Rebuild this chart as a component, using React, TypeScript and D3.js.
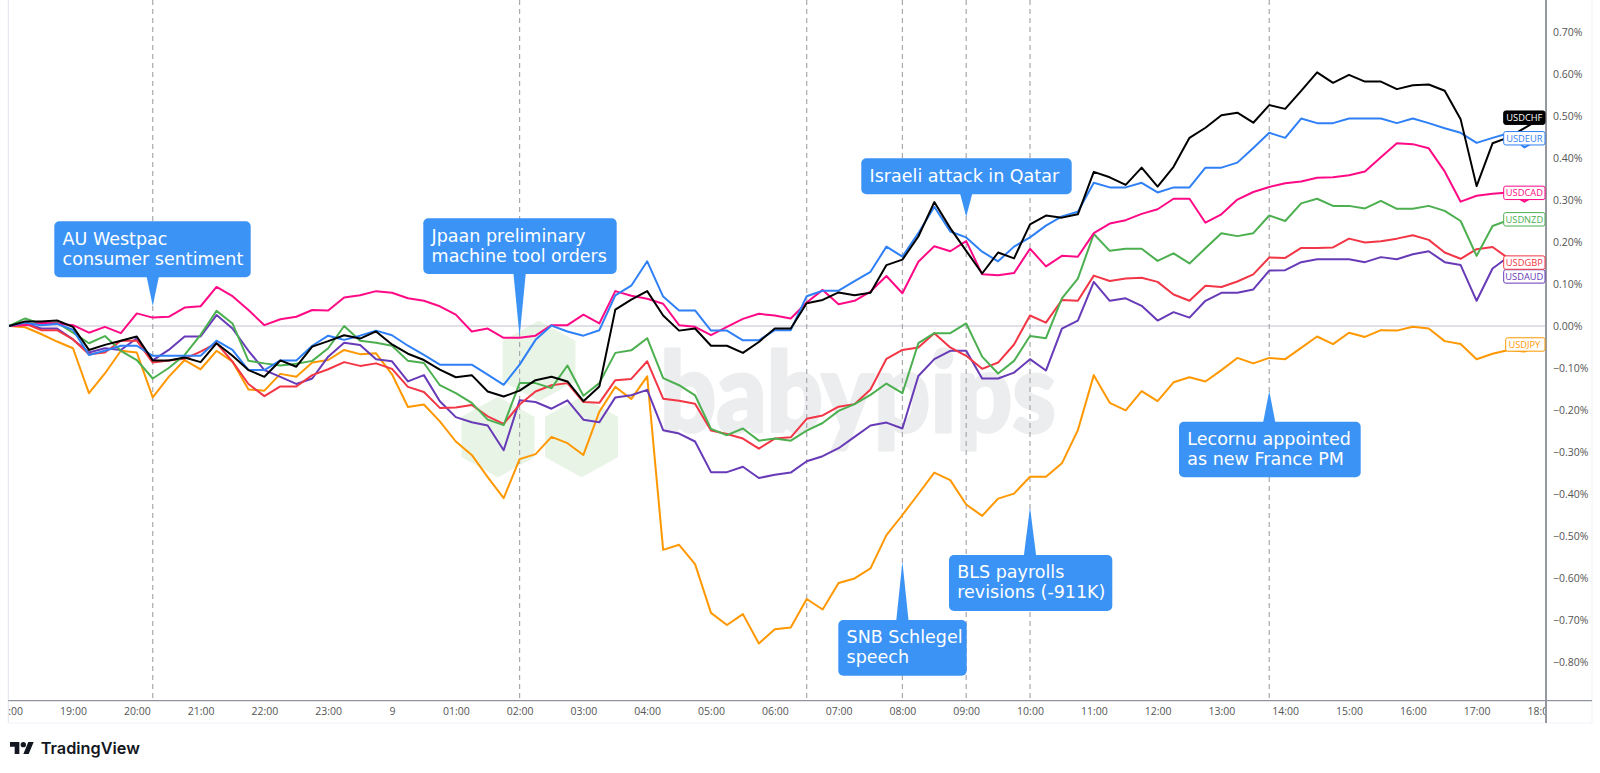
import * as React from "react";
import * as d3 from "d3";

const timeLabels = [
  "18:00", "19:00", "20:00", "21:00", "22:00", "23:00", "9", "01:00", "02:00", "03:00", "04:00", "05:00",
  "06:00", "07:00", "08:00", "09:00", "10:00", "11:00", "12:00", "13:00", "14:00", "15:00", "16:00", "17:00", "18:00",
];
const percentTicks = [0.7, 0.6, 0.5, 0.4, 0.3, 0.2, 0.1, 0, -0.1, -0.2, -0.3, -0.4, -0.5, -0.6, -0.7, -0.8];

// 15 minute closes, % change since the 18:00 open
const usdchf = [
  0, 0.011, 0.011, 0.013, -0.002, -0.057, -0.045, -0.035, -0.025, -0.082, -0.082, -0.075, -0.086, -0.041, -0.071, -0.105, -0.121, -0.082, -0.097, -0.049, -0.036, -0.022, -0.03, -0.013,
  -0.044, -0.066, -0.081, -0.104, -0.122, -0.117, -0.156, -0.168, -0.154, -0.129, -0.121, -0.132, -0.179, -0.144, 0.039, 0.063, 0.083, 0.025, -0.011, -0.006, -0.047, -0.047, -0.064, -0.038,
  -0.006, -0.006, 0.054, 0.062, 0.08, 0.073, 0.079, 0.145, 0.158, 0.213, 0.295, 0.233, 0.179, 0.125, 0.175, 0.161, 0.242, 0.263, 0.258, 0.266, 0.367, 0.354, 0.336, 0.377,
  0.332, 0.379, 0.448, 0.472, 0.502, 0.508, 0.484, 0.526, 0.517, 0.56, 0.604, 0.579, 0.598, 0.582, 0.582, 0.564, 0.573, 0.575, 0.56, 0.492, 0.333, 0.435, 0.449, 0.471, 0.494,
];
const usdeur = [
  0, 0.008, 0.002, 0.005, -0.009, -0.069, -0.059, -0.047, -0.047, -0.071, -0.071, -0.071, -0.071, -0.035, -0.057, -0.105, -0.105, -0.082, -0.082, -0.047, -0.023, -0.033, -0.023, -0.011,
  -0.022, -0.047, -0.069, -0.092, -0.092, -0.092, -0.116, -0.14, -0.092, -0.033, 0.001, -0.013, -0.023, -0.01, 0.073, 0.096, 0.154, 0.07, 0.037, 0.037, -0.011, -0.011, -0.034, -0.034,
  -0.01, -0.01, 0.071, 0.084, 0.084, 0.107, 0.129, 0.189, 0.165, 0.221, 0.284, 0.225, 0.211, 0.177, 0.154, 0.189, 0.211, 0.239, 0.261, 0.272, 0.341, 0.33, 0.33, 0.341,
  0.318, 0.33, 0.33, 0.377, 0.377, 0.389, 0.424, 0.46, 0.448, 0.494, 0.483, 0.483, 0.494, 0.494, 0.494, 0.483, 0.494, 0.483, 0.471, 0.46, 0.436, 0.448, 0.459, 0.425, 0.447,
];
const usdcad = [
  0, 0.002, 0.008, 0.006, 0.002, -0.016, -0.002, -0.017, 0.03, 0.02, 0.022, 0.044, 0.047, 0.093, 0.071, 0.038, 0.002, 0.016, 0.022, 0.038, 0.037, 0.068, 0.073, 0.083,
  0.079, 0.066, 0.06, 0.047, 0.027, -0.013, -0.006, -0.028, -0.028, -0.023, 0.002, 0.002, 0.027, 0.006, 0.083, 0.072, 0.065, 0.053, 0.002, -0.002, -0.022, -0.002, 0.017, 0.029,
  0.025, 0.018, 0.056, 0.086, 0.052, 0.06, 0.082, 0.119, 0.078, 0.153, 0.19, 0.178, 0.202, 0.123, 0.121, 0.126, 0.184, 0.142, 0.167, 0.165, 0.221, 0.244, 0.252, 0.267,
  0.278, 0.303, 0.303, 0.246, 0.266, 0.301, 0.319, 0.331, 0.34, 0.344, 0.353, 0.354, 0.359, 0.368, 0.402, 0.435, 0.433, 0.423, 0.368, 0.296, 0.31, 0.315, 0.318, 0.296, 0.318,
];
const usdnzd = [
  0, 0.018, 0.005, 0.008, -0.016, -0.041, -0.024, -0.059, -0.081, -0.125, -0.1, -0.069, -0.021, 0.036, 0.006, -0.083, -0.089, -0.094, -0.09, -0.083, -0.053, 0, -0.035, -0.04,
  -0.047, -0.083, -0.088, -0.141, -0.16, -0.183, -0.223, -0.236, -0.136, -0.136, -0.148, -0.094, -0.166, -0.136, -0.064, -0.058, -0.029, -0.124, -0.141, -0.165, -0.245, -0.26, -0.244, -0.273,
  -0.268, -0.273, -0.249, -0.231, -0.202, -0.186, -0.164, -0.137, -0.16, -0.041, -0.017, -0.017, 0.006, -0.073, -0.113, -0.083, -0.024, -0.029, 0.066, 0.113, 0.219, 0.179, 0.184, 0.184,
  0.155, 0.173, 0.149, 0.185, 0.221, 0.214, 0.221, 0.263, 0.25, 0.292, 0.303, 0.286, 0.286, 0.28, 0.298, 0.279, 0.279, 0.286, 0.274, 0.25, 0.167, 0.238, 0.252, 0.256, 0.254,
];
const usdgbp = [
  0, 0.006, -0.01, -0.01, -0.032, -0.067, -0.063, -0.035, -0.035, -0.087, -0.082, -0.078, -0.061, -0.041, -0.085, -0.138, -0.167, -0.144, -0.144, -0.117, -0.103, -0.086, -0.095, -0.089,
  -0.102, -0.145, -0.157, -0.195, -0.194, -0.188, -0.215, -0.233, -0.187, -0.156, -0.141, -0.136, -0.181, -0.183, -0.129, -0.126, -0.084, -0.173, -0.178, -0.185, -0.249, -0.257, -0.268, -0.292,
  -0.268, -0.265, -0.221, -0.213, -0.192, -0.186, -0.151, -0.078, -0.057, -0.051, -0.017, -0.051, -0.071, -0.102, -0.087, -0.044, 0.025, 0.008, 0.062, 0.06, 0.12, 0.107, 0.113, 0.115,
  0.105, 0.075, 0.06, 0.096, 0.093, 0.106, 0.123, 0.163, 0.162, 0.186, 0.186, 0.187, 0.208, 0.199, 0.202, 0.208, 0.216, 0.205, 0.175, 0.16, 0.183, 0.188, 0.161, 0.149, 0.151,
];
const usdaud = [
  0, 0.006, -0.006, -0.006, -0.032, -0.063, -0.053, -0.057, -0.029, -0.082, -0.057, -0.025, -0.025, 0.026, -0.006, -0.059, -0.105, -0.121, -0.138, -0.125, -0.073, -0.04, -0.045, -0.079,
  -0.084, -0.132, -0.117, -0.179, -0.217, -0.229, -0.237, -0.296, -0.177, -0.181, -0.197, -0.177, -0.223, -0.229, -0.17, -0.165, -0.152, -0.248, -0.256, -0.275, -0.348, -0.348, -0.335, -0.362,
  -0.354, -0.349, -0.322, -0.31, -0.291, -0.264, -0.237, -0.23, -0.244, -0.119, -0.079, -0.059, -0.059, -0.125, -0.125, -0.111, -0.079, -0.106, -0.006, 0.013, 0.105, 0.06, 0.066, 0.048,
  0.013, 0.033, 0.02, 0.06, 0.079, 0.079, 0.087, 0.132, 0.133, 0.152, 0.159, 0.159, 0.159, 0.152, 0.164, 0.159, 0.171, 0.178, 0.152, 0.145, 0.06, 0.137, 0.165, 0.16, 0.118,
];
const usdjpy = [
  0, -0.003, -0.019, -0.037, -0.053, -0.16, -0.113, -0.059, -0.063, -0.17, -0.121, -0.081, -0.103, -0.059, -0.085, -0.151, -0.154, -0.114, -0.121, -0.087, -0.081, -0.057, -0.067, -0.065,
  -0.115, -0.193, -0.187, -0.227, -0.275, -0.307, -0.36, -0.41, -0.317, -0.305, -0.264, -0.279, -0.307, -0.204, -0.145, -0.174, -0.12, -0.533, -0.521, -0.567, -0.683, -0.712, -0.686, -0.756,
  -0.722, -0.718, -0.65, -0.675, -0.612, -0.601, -0.577, -0.498, -0.45, -0.4, -0.349, -0.367, -0.425, -0.452, -0.411, -0.399, -0.359, -0.359, -0.327, -0.248, -0.117, -0.183, -0.201, -0.155,
  -0.179, -0.134, -0.122, -0.132, -0.105, -0.076, -0.089, -0.076, -0.079, -0.052, -0.025, -0.043, -0.016, -0.026, -0.01, -0.011, -0.002, -0.006, -0.036, -0.043, -0.079, -0.066, -0.057, -0.061, -0.044,
];

const seriesNames = ["USDJPY", "USDAUD", "USDGBP", "USDNZD", "USDCAD", "USDEUR", "USDCHF"];
const seriesValues = [usdjpy, usdaud, usdgbp, usdnzd, usdcad, usdeur, usdchf];
const seriesColors = ["#ff9800", "#673ab7", "#f23645", "#4caf50", "#ff0a86", "#2f80f6", "#000000"];
const tagValues = [-0.044, 0.118, 0.151, 0.254, 0.317, 0.447, 0.496];

// bar index of each marked event, 15 minute steps from the 18:00 open
const eventBars = [9, 32, 50, 56, 60, 64, 79];

const callouts = [
  { lines: ["AU Westpac", "consumer sentiment"], bar: 9, left: 54.3, right: 250.7, top: 221.3, bottom: 277.3, tip: 306 },
  { lines: ["Jpaan preliminary", "machine tool orders"], bar: 32, left: 423.3, right: 616.7, top: 218.3, bottom: 274, tip: 336.7 },
  { lines: ["Israeli attack in Qatar"], bar: 60, left: 861.3, right: 1071.7, top: 158.3, bottom: 194.3, tip: 216.7 },
  { lines: ["Lecornu appointed", "as new France PM"], bar: 79, left: 1179, right: 1360.7, top: 421.7, bottom: 477.3, tip: 391 },
  { lines: ["SNB Schlegel", "speech"], bar: 56, left: 838.3, right: 966.7, top: 620, bottom: 675.7, tip: 561.7 },
  { lines: ["BLS payrolls", "revisions (-911K)"], bar: 64, left: 949, right: 1112.3, top: 555, bottom: 611, tip: 507.3 },
];

const hexagons = [
  { cx: 539, top: 319 },
  { cx: 498, top: 395 },
  { cx: 581.6, top: 395 },
];

function drawChart(node: SVGSVGElement) {
  const svg = d3.select(node);
  svg.selectAll("*").remove();

  const plotLeft = 8.3;
  const plotRight = 1546;
  const axisBottom = 700.7;
  const frameRight = 1592;
  const frameBottom = 723;
  const tickFont = '"Open Sans", sans-serif';

  const x = d3.scaleLinear().domain([0, 96]).range([9.2, 1540.4]);
  const y = d3.scaleLinear().domain([-0.8, 0.7]).range([662, 32]);

  svg.append("clipPath").attr("id", "plot-clip").append("rect")
    .attr("x", plotLeft).attr("y", 0).attr("width", plotRight - plotLeft).attr("height", frameBottom);

  // watermark
  const mark = svg.append("g");
  hexagons.forEach((h) => {
    const r = 38;
    const corners: [number, number][] = [
      [h.cx, h.top], [h.cx + r, h.top + 21], [h.cx + r, h.top + 63],
      [h.cx, h.top + 84], [h.cx - r, h.top + 63], [h.cx - r, h.top + 21],
    ];
    mark.append("path")
      .attr("d", d3.line()(corners) + "Z")
      .attr("fill", "#e8f4e5")
      .attr("stroke", "#fff")
      .attr("stroke-width", 3);
  });
  mark.append("text")
    .attr("x", 660).attr("y", 432)
    .attr("font-family", "Lato, sans-serif").attr("font-weight", 900).attr("font-size", 110)
    .attr("textLength", 396).attr("lengthAdjust", "spacingAndGlyphs")
    .attr("fill", "#ecedee")
    .attr("stroke", "#ecedee").attr("stroke-width", 3).attr("stroke-linejoin", "round")
    .text("babypips");

  // frame
  svg.append("line").attr("x1", plotLeft).attr("x2", plotLeft).attr("y1", 0).attr("y2", frameBottom)
    .attr("stroke", "#e0e3eb");
  svg.append("path").attr("d", `M${plotLeft},${frameBottom}H${frameRight}V0`)
    .attr("fill", "none").attr("stroke", "#f0f3fa");

  // zero line
  svg.append("line").attr("x1", plotLeft).attr("x2", plotRight).attr("y1", y(0)).attr("y2", y(0))
    .attr("stroke", "#c3c1d4").attr("stroke-width", 1.2);

  // event markers
  svg.selectAll("line.event").data(eventBars).enter().append("line")
    .attr("class", "event")
    .attr("x1", (d) => x(d)).attr("x2", (d) => x(d))
    .attr("y1", 0).attr("y2", axisBottom)
    .attr("stroke", "#a8a8ad").attr("stroke-width", 1.2).attr("stroke-dasharray", "5 4");

  // lines
  const line = d3.line<number>().x((_d, i) => x(i)).y((d) => y(d));
  svg.append("g").attr("clip-path", "url(#plot-clip)")
    .selectAll("path").data(seriesValues).enter().append("path")
    .attr("d", (d) => line(d))
    .attr("fill", "none")
    .attr("stroke", (_d, i) => seriesColors[i])
    .attr("stroke-width", 2)
    .attr("stroke-linejoin", "round");

  // axes, first and last time label are cut by the plot edges
  const xAxis = d3.axisBottom(x)
    .tickValues(timeLabels.map((_d, i) => i * 4))
    .tickFormat((_d, i) => timeLabels[i])
    .tickSize(0).tickPadding(7);
  svg.append("clipPath").attr("id", "tick-clip").append("rect")
    .attr("x", plotLeft).attr("y", -2).attr("width", plotRight - plotLeft - 1).attr("height", 30);
  const xG = svg.append("g").attr("transform", `translate(0,${axisBottom})`).call(xAxis)
    .attr("clip-path", "url(#tick-clip)");
  xG.select(".domain").remove();
  xG.selectAll("text").attr("font-family", tickFont).attr("font-size", 10.5).attr("fill", "#555");
  svg.append("line").attr("x1", plotLeft).attr("x2", frameRight).attr("y1", axisBottom).attr("y2", axisBottom)
    .attr("stroke", "#787b86").attr("stroke-width", 1);

  const yAxis = d3.axisRight(y)
    .tickValues(percentTicks)
    .tickFormat((d) => d3.format(".2f")(d as number) + "%")
    .tickSize(0).tickPadding(7);
  const yG = svg.append("g").attr("transform", `translate(${plotRight},0)`).call(yAxis);
  yG.select(".domain").remove();
  yG.selectAll("text").attr("font-family", tickFont).attr("font-size", 10.5).attr("fill", "#555");
  svg.append("line").attr("x1", plotRight).attr("x2", plotRight).attr("y1", 0).attr("y2", frameBottom)
    .attr("stroke", "#9598a1").attr("stroke-width", 2);

  // callouts
  const notes = svg.selectAll("g.note").data(callouts).enter().append("g").attr("class", "note");
  notes.append("path")
    .attr("d", (d) => {
      const cx = x(d.bar);
      const base = d.tip < d.top ? d.top + 1 : d.bottom - 1;
      return `M${cx - 6.2},${base}L${cx},${d.tip}L${cx + 6.2},${base}Z`;
    })
    .attr("fill", "#3b93f5");
  notes.append("rect")
    .attr("x", (d) => d.left).attr("y", (d) => d.top)
    .attr("width", (d) => d.right - d.left).attr("height", (d) => d.bottom - d.top)
    .attr("rx", 5)
    .attr("fill", "#3b93f5");
  notes.selectAll("text").data((d) => d.lines.map((t, i) => ({ t, i, d }))).enter().append("text")
    .attr("x", (l) => l.d.left + 8.3)
    .attr("y", (l) => l.d.top + 23.3 + l.i * 20)
    .attr("font-family", '"DejaVu Sans", sans-serif')
    .attr("font-size", 17.5)
    .attr("fill", "#fff")
    .text((l) => l.t);

  // last value tags
  const tags = svg.selectAll("g.tag").data(seriesNames).enter().append("g").attr("class", "tag")
    .attr("transform", (_d, i) => `translate(0,${y(tagValues[i])})`);
  const tagLeft = 1503.7;
  tags.append("rect")
    .attr("x", (d) => (d === "USDJPY" ? tagLeft + 2 : tagLeft))
    .attr("y", -6.7)
    .attr("width", (d) => (d === "USDJPY" ? plotRight - tagLeft - 3 : plotRight - tagLeft - 1))
    .attr("height", 13.4)
    .attr("rx", 2)
    .attr("fill", (d) => (d === "USDCHF" ? "#000" : "#fff"))
    .attr("stroke", (_d, i) => seriesColors[i]);
  tags.append("text")
    .attr("x", (plotRight + tagLeft) / 2 - 0.5)
    .attr("y", 3.4)
    .attr("text-anchor", "middle")
    .attr("font-family", tickFont)
    .attr("font-size", 9.3)
    .attr("fill", (d, i) => (d === "USDCHF" ? "#fff" : seriesColors[i]))
    .text((d) => d);

  // TradingView attribution
  const logo = svg.append("g").attr("transform", "translate(10,739.3) scale(0.667)").attr("fill", "#131722");
  logo.append("path").attr("d", "M14 22H7V11H0V4h14v18zM28 22h-8l7.5-18h8L28 22z");
  logo.append("circle").attr("cx", 20).attr("cy", 8).attr("r", 4);
  svg.append("text")
    .attr("x", 40.7).attr("y", 754)
    .attr("font-family", "Inter, sans-serif").attr("font-weight", 600).attr("font-size", 16.3)
    .attr("fill", "#131722")
    .text("TradingView");
}

export default function App() {
  const svg = React.useRef<SVGSVGElement>(null);
  React.useEffect(() => {
    if (svg.current) drawChart(svg.current);
  }, []);

  return (
    <svg
      ref={svg}
      width={1600}
      height={773}
      style={{ position: "absolute", left: 0, top: 0, background: "#fff" }}
    />
  );
}
